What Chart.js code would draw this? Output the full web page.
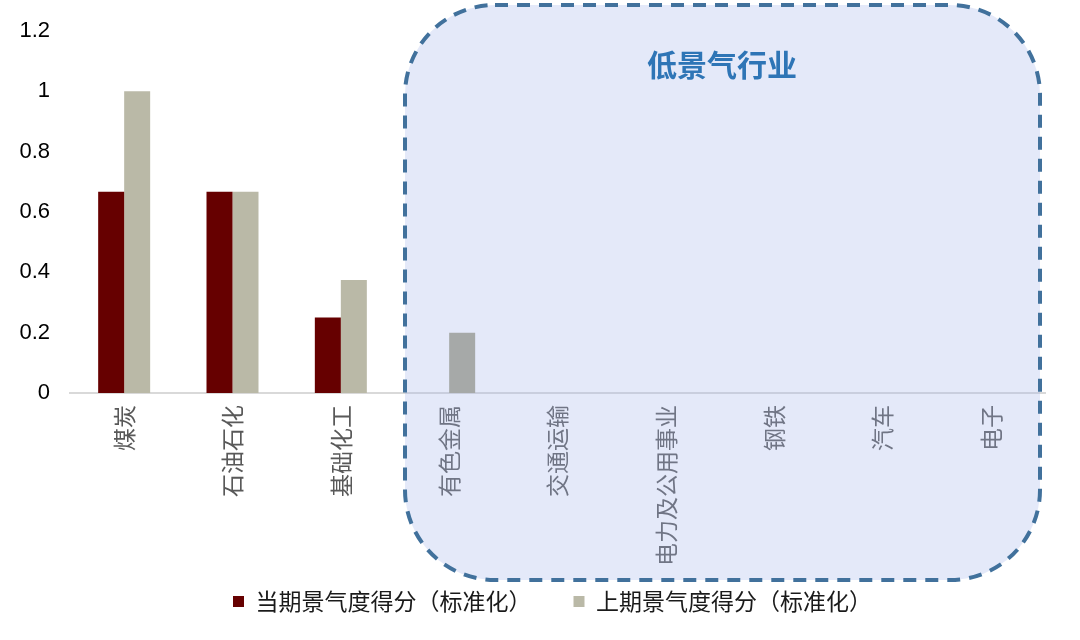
<!DOCTYPE html>
<html>
<head>
<meta charset="utf-8">
<script src="https://cdn.jsdelivr.net/npm/chart.js@4/dist/chart.umd.min.js"></script>
<style>
  html, body { margin: 0; padding: 0; background: #fff; }
  #wrap { width: 1080px; height: 640px; }
</style>
</head>
<body>
<div id="wrap"><canvas id="myChart" width="1080" height="640"></canvas></div>
<script>
var categories = ['煤炭', '石油石化', '基础化工', '有色金属', '交通运输', '电力及公用事业', '钢铁', '汽车', '电子'];
var currentScores = [0.667, 0.667, 0.25, 0, 0, 0, 0, 0, 0];
var previousScores = [1, 0.667, 0.375, 0.2, 0, 0, 0, 0, 0];
var yTicks = [0, 0.2, 0.4, 0.6, 0.8, 1, 1.2];
var seriesNames = ['当期景气度得分（标准化）', '上期景气度得分（标准化）'];
var boxTitle = '低景气行业';

var fontFamily = '"Liberation Sans", Arial, "Noto Sans CJK SC", sans-serif';
var cjkFont = '"Noto Sans CJK SC", "Liberation Sans", sans-serif';

// 上期 bars: the one inside the low-prosperity box shows greyer
var prevColors = previousScores.map(function (v, i) {
    return i >= 3 ? '#a6a9a8' : '#bab9a7';
});

var lowBoxPlugin = {
    id: 'lowBox',
    afterLayout: function (chart) {
        // legend sits a bit right of centre and up near the box in the original
        var lg = chart.legend;
        var pad = lg.options.labels.padding;
        var dx = 233 - pad - lg.left;
        lg.left += dx;
        lg.right += dx;
        var h = lg.bottom - lg.top;
        lg.top = 603 - pad - 13;
        lg.bottom = lg.top + h;
    },
    // dashed rounded box behind the low-prosperity group
    beforeDatasetsDraw: function (chart) {
        var ctx = chart.ctx;
        var x0 = 405, y0 = 5, x1 = 1040, y1 = 580;
        ctx.save();
        ctx.beginPath();
        ctx.roundRect(x0, y0, x1 - x0, y1 - y0, 90);
        ctx.fillStyle = 'rgba(165, 182, 235, 0.3)';
        ctx.fill();
        ctx.setLineDash([13, 9]);
        ctx.lineWidth = 4;
        ctx.strokeStyle = '#41719c';
        ctx.stroke();
        ctx.setLineDash([]);
        ctx.font = 'bold 30px ' + cjkFont;
        ctx.fillStyle = '#2e75b6';
        ctx.textAlign = 'center';
        ctx.textBaseline = 'middle';
        ctx.fillText(boxTitle, 722, 65);
        ctx.restore();
    }
};

var ctx = document.getElementById('myChart');
var chartDashboard = new Chart(ctx, {
    type: 'bar',
    data: {
        labels: categories,
        datasets: [
            {
                label: seriesNames[0],
                data: currentScores,
                backgroundColor: '#660000',
                borderWidth: 0
            },
            {
                label: seriesNames[1],
                data: previousScores,
                backgroundColor: prevColors,
                borderWidth: 0
            }
        ]
    },
    options: {
        responsive: false,
        animation: false,
        devicePixelRatio: 1,
        layout: {
            padding: { top: 10, left: 0, right: 35, bottom: 0 }
        },
        datasets: {
            bar: { barPercentage: 1, categoryPercentage: 0.48 }
        },
        plugins: {
            title: { display: false },
            tooltip: { enabled: false },
            legend: {
                position: 'bottom',
                align: 'start',
                labels: {
                    boxWidth: 11,
                    boxHeight: 11,
                    padding: 42,
                    color: '#1a1a1a',
                    font: { family: cjkFont, size: 23 },
                    generateLabels: function (chart) {
                        return chart.data.datasets.map(function (ds, i) {
                            return {
                                text: ds.label,
                                fillStyle: i === 0 ? '#660000' : '#bab9a7',
                                strokeStyle: 'rgba(0,0,0,0)',
                                lineWidth: 0,
                                datasetIndex: i,
                                fontColor: '#1a1a1a'
                            };
                        });
                    }
                }
            }
        },
        scales: {
            x: {
                grid: { display: false, drawTicks: false },
                border: { display: true, color: '#d9d9d9', width: 2 },
                afterFit: function (scale) { scale.height = 172; },
                ticks: {
                    color: '#595959',
                    font: { family: cjkFont, size: 23 },
                    minRotation: 90,
                    maxRotation: 90,
                    padding: 12,
                    autoSkip: false
                }
            },
            y: {
                min: 0,
                max: 1.2,
                grid: { display: false, drawTicks: false },
                border: { display: false },
                afterFit: function (scale) { scale.width = 70; },
                afterBuildTicks: function (scale) {
                    scale.ticks = yTicks.map(function (v) { return { value: v }; });
                },
                ticks: {
                    color: '#000000',
                    font: { family: fontFamily, size: 22, lineHeight: 1 },
                    padding: 20,
                    callback: function (v) { return String(+v.toFixed(1)); }
                }
            }
        }
    },
    plugins: [lowBoxPlugin]
});
</script>
</body>
</html>
